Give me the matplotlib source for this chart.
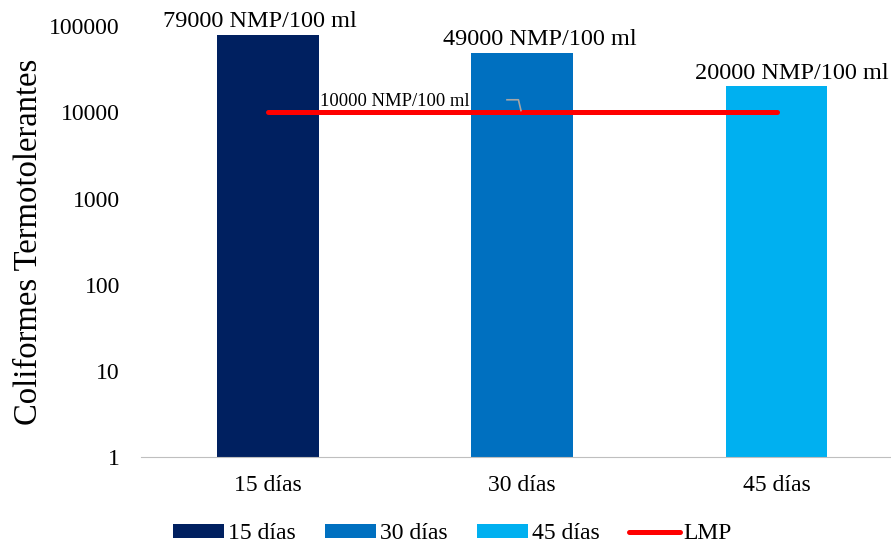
import matplotlib
matplotlib.use("Agg")
import matplotlib.pyplot as plt
from matplotlib.patches import Patch
from matplotlib.lines import Line2D

plt.rcParams['font.family'] = ['Liberation Serif', 'DejaVu Serif']

categories = ["15 días", "30 días", "45 días"]
values = [79000, 49000, 20000]
lmp = [10000, 10000, 10000]
bar_labels = ["79000 NMP/100 ml", "49000 NMP/100 ml", "20000 NMP/100 ml"]
lmp_label = "10000 NMP/100 ml"
yticks = [1, 10, 100, 1000, 10000, 100000]
colors = ["#002060", "#0070C0", "#00B0F0"]

fig = plt.figure(figsize=(8.91, 5.46), dpi=100)
ax = fig.add_axes([0.158, 0.163, 0.842, 0.789])
x = list(range(len(categories)))
ax.bar(x, values, width=0.4, color=colors, zorder=2)
ax.plot(x, lmp, color="#FF0000", lw=3.6, solid_capstyle="round", zorder=3)
ax.set_yscale("log")
ax.set_ylim(1, 100000)
ax.set_xlim(-0.5, 2.45)
ax.set_yticks(yticks)
ax.set_yticklabels([str(v) for v in yticks])
ax.minorticks_off()
ax.set_xticks(x)
ax.set_xticklabels(categories)
ax.tick_params(axis='both', length=0, labelsize=17)
ax.tick_params(axis='y', pad=15)
ax.tick_params(axis='x', pad=13)
for s in ["top", "right", "left"]:
    ax.spines[s].set_visible(False)
ax.spines["bottom"].set_color("#BFBFBF")
ax.set_ylabel("Coliformes Termotolerantes", fontsize=23.5, labelpad=4)

offsets = [-0.03, 0.07, 0.06]
for xi, v, lab, off in zip(x, values, bar_labels, offsets):
    ax.annotate(lab, (xi + off, v), xytext=(0, 2), textcoords="offset points",
                ha="center", va="bottom", fontsize=17.5)

ax.annotate(lmp_label, (0.5, lmp[0]), xytext=(0, 2), textcoords="offset points",
            ha="center", va="bottom", fontsize=13.4)
# leader line
ax.plot([0.94, 0.985, 0.995], [14000, 14000, 10500], color="#A6A6A6", lw=1.2, zorder=4)

handles = [Patch(facecolor=c) for c in colors] + [Line2D([0], [0], color="#FF0000", lw=3.6, solid_capstyle="round")]
fig.legend(handles, categories + ["LMP"], loc="lower center", ncol=4, frameon=False,
           fontsize=17, bbox_to_anchor=(0.508, -0.036), handlelength=2.15, handleheight=0.5,
           columnspacing=1.27, handletextpad=0.15)

fig.savefig("out.png", dpi=100)
